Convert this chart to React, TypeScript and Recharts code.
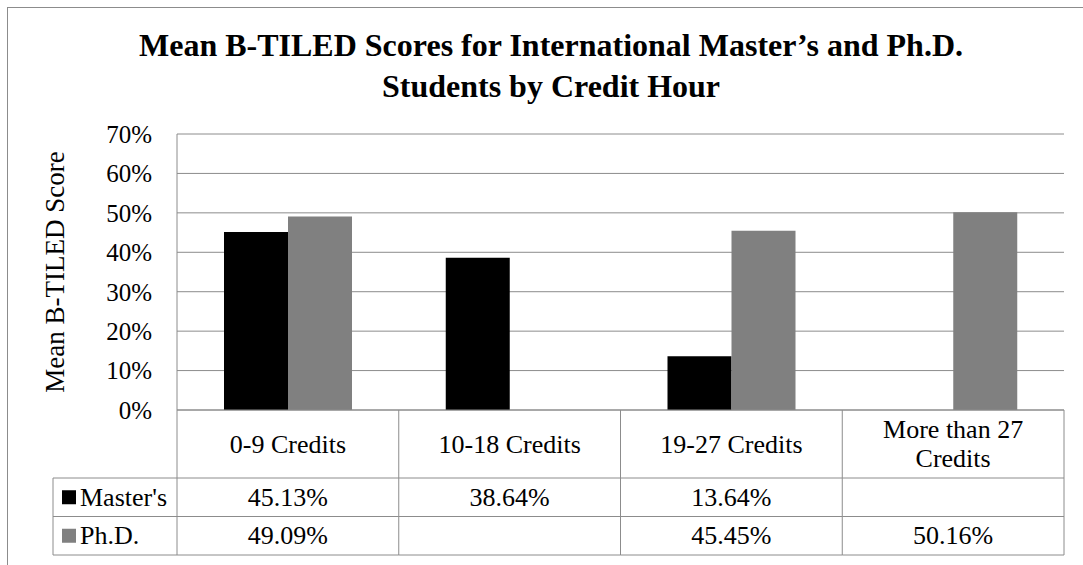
import React from 'react';
import { BarChart, Bar, XAxis, YAxis, CartesianGrid } from 'recharts';

// chart values
const categories = ['0-9 Credits', '10-18 Credits', '19-27 Credits', 'More than 27 Credits'];
const mastersScores: (number | null)[] = [45.13, 38.64, 13.64, null];
const phdScores: (number | null)[] = [49.09, null, 45.45, 50.16];
const yTicks = [0, 10, 20, 30, 40, 50, 60, 70];
const titleLines = ['Mean B-TILED Scores for International Master’s and Ph.D.', 'Students by Credit Hour'];
const yAxisTitle = 'Mean B-TILED Score';

const series = [
  { key: 'masters', name: "Master's", values: mastersScores, color: '#000000' },
  { key: 'phd', name: 'Ph.D.', values: phdScores, color: '#808080' },
];

const data = categories.map((name, i) => ({ name, masters: mastersScores[i], phd: phdScores[i] }));

const W = 1083;
const H = 565;
const PLOT_LEFT = 177;
const PLOT_RIGHT = 1064;
const PLOT_TOP = 134;
const HEADER_H = 68;
const ROW_H = 38.5;
const LEGEND_LEFT = 53;
const COL_W = (PLOT_RIGHT - PLOT_LEFT) / categories.length;
const LINE = '#8c8c8c';
const FONT = '"Liberation Serif", "Times New Roman", serif';
const FS = 25;
const TABLE_FS = 26;

const wrap = (label: string, maxChars = 13) => {
  const out: string[] = [];
  let cur = '';
  label.split(' ').forEach(w => {
    const next = cur ? cur + ' ' + w : w;
    if (next.length > maxChars && cur) {
      out.push(cur);
      cur = w;
    } else {
      cur = next;
    }
  });
  if (cur) out.push(cur);
  return out;
};

const fmt = (v: number | null) => (v == null ? '' : `${v.toFixed(2)}%`);

// x axis tick draws the data table column for its category
const TableTick = (props: any) => {
  const { x, y, payload } = props;
  const idx = categories.indexOf(payload.value);
  const left = x - COL_W / 2;
  const right = x + COL_W / 2;
  const tableBottom = y + HEADER_H + ROW_H * series.length;
  const lines = wrap(payload.value);
  const lineGap = 29;
  const headerMid = y + HEADER_H / 2;
  const rowStart = idx === 0 ? LEGEND_LEFT : left;

  return (
    <g fontFamily={FONT} fontSize={TABLE_FS} fill="#000">
      <line x1={left} y1={y} x2={left} y2={tableBottom} stroke={LINE} />
      {idx === categories.length - 1 && <line x1={right} y1={y} x2={right} y2={tableBottom} stroke={LINE} />}
      {series.map((s, r) => (
        <line
          key={s.key}
          x1={rowStart}
          x2={right}
          y1={y + HEADER_H + ROW_H * r}
          y2={y + HEADER_H + ROW_H * r}
          stroke={LINE}
        />
      ))}
      <line x1={rowStart} x2={right} y1={tableBottom} y2={tableBottom} stroke={LINE} />
      {lines.map((ln, i) => (
        <text
          key={i}
          x={x}
          y={headerMid + (i - (lines.length - 1) / 2) * lineGap}
          textAnchor="middle"
          dominantBaseline="central"
        >
          {ln}
        </text>
      ))}
      {series.map((s, r) => (
        <text
          key={s.key}
          x={x}
          y={y + HEADER_H + ROW_H * r + ROW_H / 2}
          textAnchor="middle"
          dominantBaseline="central"
        >
          {fmt(s.values[idx])}
        </text>
      ))}
      {idx === 0 && (
        <g>
          <line x1={LEGEND_LEFT} x2={LEGEND_LEFT} y1={y + HEADER_H} y2={tableBottom} stroke={LINE} />
          {series.map((s, r) => {
            const cy = y + HEADER_H + ROW_H * r + ROW_H / 2;
            return (
              <g key={s.key}>
                <rect x={LEGEND_LEFT + 9} y={cy - 7} width={14} height={14} fill={s.color} />
                <text x={LEGEND_LEFT + 27} y={cy} dominantBaseline="central">
                  {s.name}
                </text>
              </g>
            );
          })}
        </g>
      )}
    </g>
  );
};

const App = () => {
  return (
    <div style={{ position: 'absolute', left: 0, top: 0, width: W, height: H, overflow: 'hidden', background: '#fff' }}>
      <div
        style={{
          position: 'absolute',
          left: 7,
          top: 7,
          width: 1200,
          height: 700,
          border: `1px solid ${LINE}`,
        }}
      />
      <div
        style={{
          position: 'absolute',
          left: 7,
          top: 25,
          width: 1088,
          textAlign: 'center',
          fontFamily: FONT,
          fontWeight: 'bold',
          fontSize: 32,
          lineHeight: '41px',
        }}
      >
        {titleLines.map(t => (
          <div key={t}>{t}</div>
        ))}
      </div>
      <div style={{ position: 'absolute', left: 0, top: 0 }}>
        <BarChart
          width={W}
          height={H}
          data={data}
          margin={{ top: PLOT_TOP, right: W - PLOT_RIGHT, left: 0, bottom: 5 }}
          barGap={0}
          barSize={64}
        >
          <CartesianGrid vertical={false} stroke={LINE} strokeDasharray="" />
          <XAxis
            dataKey="name"
            height={150}
            axisLine={{ stroke: LINE }}
            tickLine={false}
            tickSize={0}
            tickMargin={0}
            interval={0}
            tick={<TableTick />}
          />
          <YAxis
            width={PLOT_LEFT}
            domain={[0, 70]}
            ticks={yTicks}
            tickFormatter={(v: number) => `${v}%`}
            axisLine={{ stroke: LINE }}
            tickLine={false}
            tickMargin={19}
            tick={{ fill: '#000', fontSize: FS, fontFamily: FONT }}
            label={{
              content: (p: any) => {
                const vb = p.viewBox || {};
                const cy = (vb.y ?? PLOT_TOP) + (vb.height ?? 276) / 2;
                return (
                  <text
                    x={55}
                    y={cy}
                    transform={`rotate(-90 55 ${cy})`}
                    textAnchor="middle"
                    dominantBaseline="central"
                    fontFamily={FONT}
                    fontSize={27}
                    fill="#000"
                  >
                    {yAxisTitle}
                  </text>
                );
              },
            }}
          />
          {series.map(s => (
            <Bar key={s.key} dataKey={s.key} name={s.name} fill={s.color} isAnimationActive={false} />
          ))}
        </BarChart>
      </div>
    </div>
  );
};

export default App;
